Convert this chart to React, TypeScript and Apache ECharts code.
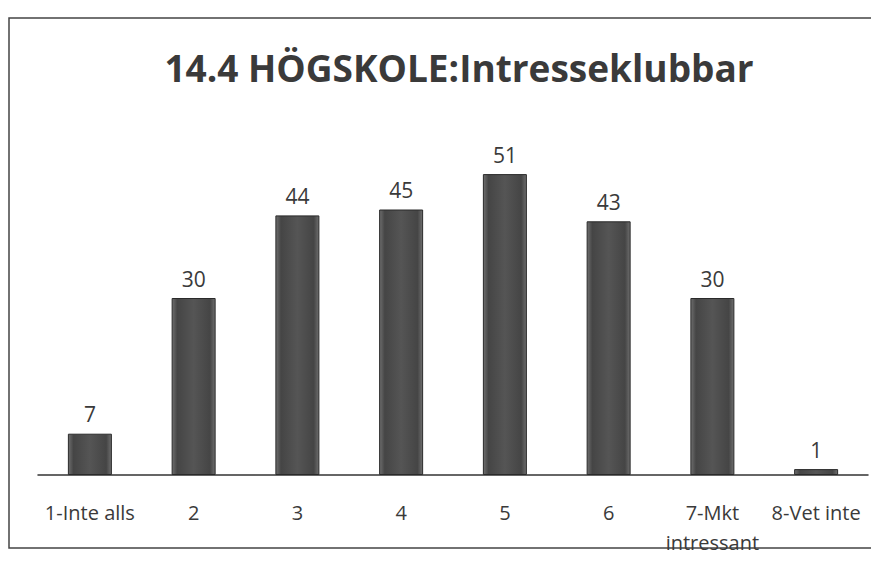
import React, { useEffect, useRef } from "react";
import * as echarts from "echarts";

const categories = ["1-Inte alls", "2", "3", "4", "5", "6", "7-Mkt\nintressant", "8-Vet inte"];
const values = [7, 30, 44, 45, 51, 43, 30, 1];
const titleText = "14.4 HÖGSKOLE:Intresseklubbar";

export default function App() {
  const ref = useRef<HTMLDivElement>(null);
  useEffect(() => {
    if (!ref.current) return;
    const chart = echarts.init(ref.current, null, { renderer: "svg" });
    const font = "'Open Sans', 'Noto Sans', sans-serif";
    chart.setOption({
      animation: false,
      backgroundColor: "#ffffff",
      title: {
        text: titleText,
        left: 446,
        top: 36,
        textAlign: "center",
        textStyle: { fontFamily: font, fontSize: 37, fontWeight: "bold", color: "#3a3a3a" },
      },
      graphic: [
        {
          type: "rect",
          shape: { x: 1, y: 10, width: 863, height: 530 },
          style: { fill: "none", stroke: "#444", lineWidth: 1.5 },
          silent: true,
        },
      ],
      grid: { left: 30, right: 19, top: 113, bottom: 98 },
      xAxis: {
        type: "category",
        data: categories,
        axisLine: { show: true, lineStyle: { color: "#333", width: 1.5 } },
        axisTick: { show: false },
        axisLabel: {
          color: "#3a3a3a",
          fontFamily: font,
          fontSize: 20,
          margin: 22,
          lineHeight: 30,
          interval: 0,
        },
      },
      yAxis: {
        type: "value",
        min: 0,
        max: 60,
        show: false,
        splitLine: { show: false },
      },
      series: [
        {
          type: "bar",
          data: values,
          barWidth: 44,
          itemStyle: {
            color: new echarts.graphic.LinearGradient(0, 0, 1, 0, [
              { offset: 0, color: "#6e6e6e" },
              { offset: 0.12, color: "#454545" },
              { offset: 0.5, color: "#555555" },
              { offset: 0.88, color: "#454545" },
              { offset: 1, color: "#6e6e6e" },
            ]),
            borderColor: "#2a2a2a",
            borderWidth: 1,
          },
          label: {
            show: true,
            position: "top",
            distance: 9,
            color: "#3a3a3a",
            fontFamily: font,
            fontSize: 21,
          },
        },
      ],
    });
    return () => chart.dispose();
  }, []);
  return <div ref={ref} style={{ width: 879, height: 565 }} />;
}
